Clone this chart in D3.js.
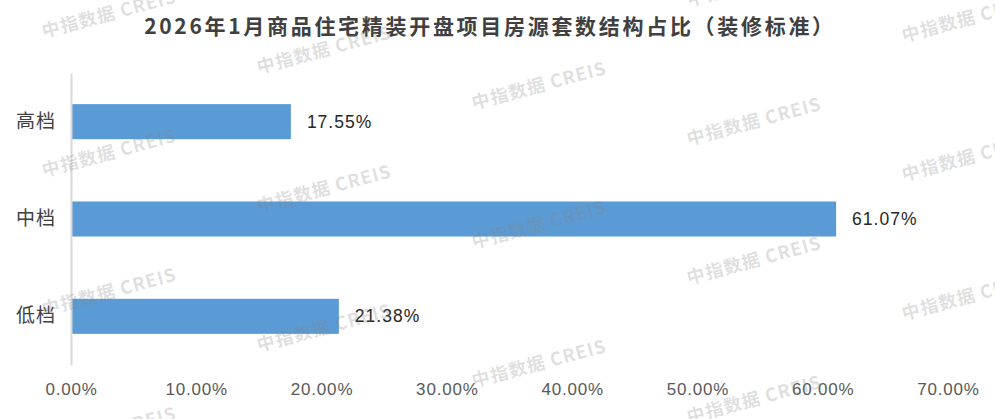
<!DOCTYPE html>
<html>
<head>
<meta charset="utf-8">
<script src="https://cdn.jsdelivr.net/npm/d3@7/dist/d3.min.js"></script>
<style>
  html, body { margin: 0; padding: 0; background: #fff; }
  svg { display: block; }
</style>
</head>
<body>
<svg id="chart" width="995" height="419"></svg>
<script>
const title = "2026年1月商品住宅精装开盘项目房源套数结构占比（装修标准）";
const categories = ["高档", "中档", "低档"];
const values = [17.55, 61.07, 21.38];
const tickValues = [0, 10, 20, 30, 40, 50, 60, 70];
const watermarkText = "中指数据 CREIS";

const W = 995, H = 419;
const svg = d3.select("#chart");

const x = d3.scaleLinear().domain([0, 70]).range([71, 948]);
const y = d3.scaleBand().domain(categories).range([73, 365]).paddingInner(0.64).paddingOuter(0.32);

// title
svg.append("text")
  .attr("x", 490).attr("y", 34)
  .attr("text-anchor", "middle")
  .style("font-family", "'Noto Sans CJK SC', sans-serif")
  .style("font-weight", "bold")
  .style("font-size", "21px")
  .style("letter-spacing", "2.7px")
  .style("fill", "#404040")
  .text(title);

// bars
svg.append("g").selectAll("rect").data(values).join("rect")
  .attr("x", x(0))
  .attr("y", (d, i) => y(categories[i]))
  .attr("width", d => x(d) - x(0))
  .attr("height", y.bandwidth())
  .attr("fill", "#5b9bd5");

// value labels
svg.append("g").selectAll("text").data(values).join("text")
  .attr("x", d => x(d) + 16)
  .attr("y", (d, i) => y(categories[i]) + y.bandwidth() / 2)
  .attr("dy", "0.35em")
  .style("font-family", "'Liberation Sans', Arial, sans-serif")
  .style("font-size", "17.5px")
  .style("letter-spacing", "1px")
  .style("fill", "#262626")
  .text(d => d.toFixed(2) + "%");

// y axis
const yAxis = svg.append("g")
  .attr("transform", `translate(${x(0)},0)`)
  .call(d3.axisLeft(y).tickSize(0).tickSizeOuter(0).tickPadding(15));
yAxis.select(".domain").attr("stroke", "#d9d9d9").attr("stroke-width", 2);
yAxis.selectAll("text")
  .style("font-family", "'Noto Sans CJK SC', sans-serif")
  .style("font-size", "19px")
  .style("letter-spacing", "1px")
  .style("fill", "#404040");

// x axis (labels only)
const xAxis = svg.append("g")
  .attr("transform", `translate(0,${y.range()[1]})`)
  .call(d3.axisBottom(x).tickValues(tickValues).tickSize(0).tickPadding(18)
        .tickFormat(d => d.toFixed(2) + "%"));
xAxis.select(".domain").remove();
xAxis.selectAll("text")
  .style("font-family", "'Liberation Sans', Arial, sans-serif")
  .style("font-size", "17px")
  .style("letter-spacing", "0.8px")
  .style("fill", "#595959");

// watermarks
const wm = svg.append("g").attr("pointer-events", "none");
for (let c = 0; c < 5; c++) {
  for (let r = -1; r < 4; r++) {
    const cx = 109 + 215 * c;
    const cy = 14 + 35.8 * c + 139 * r;
    if (cy < -30 || cy > H + 30) continue;
    wm.append("text")
      .attr("transform", `translate(${cx},${cy}) rotate(-15)`)
      .attr("text-anchor", "middle")
      .attr("dy", "0.35em")
      .style("font-family", "'Noto Sans CJK SC', sans-serif")
      .style("font-weight", "bold")
      .style("font-size", "18px")
      .style("letter-spacing", "1px")
      .style("fill", "rgba(130,130,130,0.25)")
      .text(watermarkText);
  }
}
</script>
</body>
</html>
